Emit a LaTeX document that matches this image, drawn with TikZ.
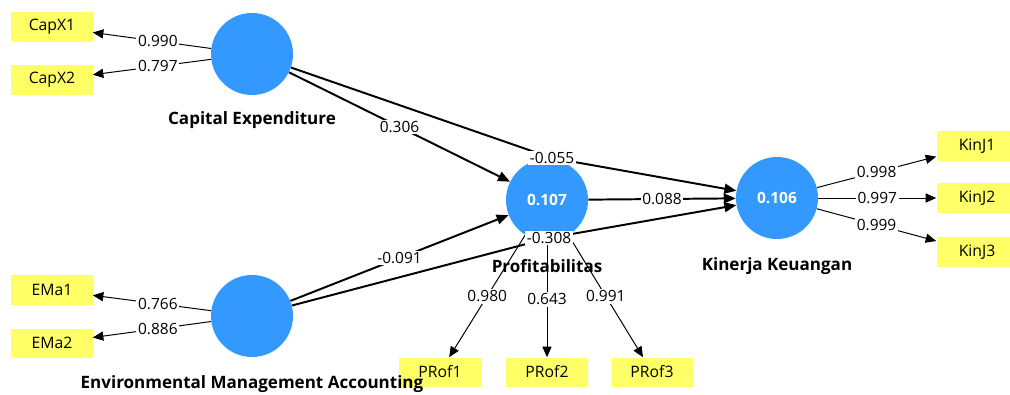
\documentclass[tikz,border=0pt]{standalone}
\usepackage{fontspec}
\setmainfont{Open Sans}
\usetikzlibrary{arrows.meta}
\definecolor{lvblue}{RGB}{51,153,255}
\definecolor{mvyellow}{RGB}{255,255,102}

\tikzset{
  latent/.style={circle,fill=lvblue,minimum size=2.05cm,inner sep=0pt,text=white,
    font=\fontsize{11}{13}\selectfont\bfseries},
  indicator/.style={rectangle,fill=mvyellow,minimum width=2.025cm,minimum height=0.725cm,
    inner sep=0pt,font=\fontsize{11.2}{13}\selectfont},
  lvname/.style={font=\fontsize{12.1}{14}\selectfont\bfseries},
  coef/.style={fill=white,inner sep=1.2pt,font=\fontsize{11}{13}\selectfont},
  struct/.style={line width=1.4pt,-{Triangle[length=8.5pt,width=7pt]}},
  load/.style={line width=0.7pt,-{Triangle[length=7.5pt,width=6.5pt]}}
}

\begin{document}
\begin{tikzpicture}[x=0.025cm,y=-0.025cm]
\clip (0,0) rectangle (1010,394);

% latent variables
\node[latent] (capex) at (252,54) {};
\node[latent] (ema) at (252,316) {};
\node[latent] (prof) at (547,200) {0.107};
\node[latent] (kin) at (777,198) {0.106};

% indicators
\node[indicator] (capx1) at (52,27) {CapX1};
\node[indicator] (capx2) at (52,80) {CapX2};
\node[indicator] (ema1) at (52,290) {EMa1};
\node[indicator] (ema2) at (52,343) {EMa2};
\node[indicator] (kinj1) at (977,146) {KinJ1};
\node[indicator] (kinj2) at (977,198) {KinJ2};
\node[indicator] (kinj3) at (977,252) {KinJ3};
\node[indicator] (prof1) at (440,372) {PRof1};
\node[indicator] (prof2) at (547,372) {PRof2};
\node[indicator] (prof3) at (652,372) {PRof3};

% outer loadings
\draw[load] (capex) -- node[coef,pos=0.45] {0.990} (capx1);
\draw[load] (capex) -- node[coef,pos=0.45] {0.797} (capx2);
\draw[load] (ema) -- node[coef,pos=0.45] {0.766} (ema1);
\draw[load] (ema) -- node[coef,pos=0.45] {0.886} (ema2);
\draw[load] (kin) -- node[coef] {0.998} (kinj1);
\draw[load] (kin) -- node[coef] {0.997} (kinj2);
\draw[load] (kin) -- node[coef] {0.999} (kinj3);
\draw[load] (prof) -- node[coef] {0.980} (prof1);
\draw[load] (prof) -- node[coef] {0.643} (prof2);
\draw[load] (prof) -- node[coef] {0.991} (prof3);

% inner model
\coordinate (bend1) at (552,158);
\coordinate (bend2) at (549,238);
\draw[struct] (capex) -- node[coef] {0.306} (prof);
\draw[struct] (ema) -- node[coef] {-0.091} (prof);
\draw[struct] (prof) -- node[coef] {0.088} (kin);
\draw[struct] (capex) -- (bend1) node[coef] {-0.055} -- (kin);
\draw[struct] (ema) -- (bend2) node[coef] {-0.308} -- (kin);

% names
\node[lvname] (capexname) at (252,120) {Capital Expenditure};
\node[lvname] (emaname) at (252,384) {Environmental Management Accounting};
\node[lvname] (profname) at (547,266) {Profitabilitas};
\node[lvname] (kinname) at (777,266) {Kinerja Keuangan};
\end{tikzpicture}
\end{document}
